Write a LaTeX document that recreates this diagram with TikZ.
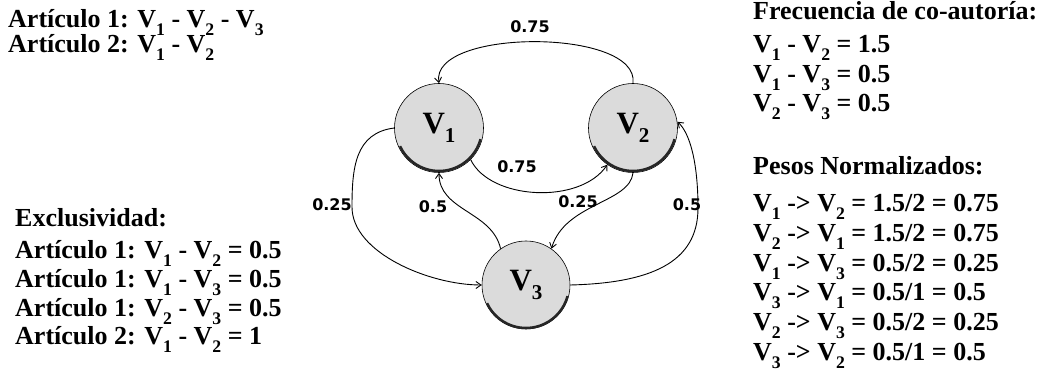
\documentclass[tikz,border=0pt]{standalone}
\usepackage{fontspec}
\usepackage{graphicx}
\setmainfont{Liberation Serif}
\newfontfamily\lblfont{DejaVu Sans}
\usetikzlibrary{arrows.meta}
\newcommand\sbs[1]{\raisebox{-0.3em}{\scalebox{0.68}{#1}}}
\begin{document}
\begin{tikzpicture}[x=1pt,y=1pt,
  vert/.style={circle, draw=black, line width=0.6pt, fill=gray!28, minimum size=89pt, inner sep=0pt, font=\fontsize{31}{31}\selectfont\bfseries},
  txt/.style={anchor=base west, inner sep=0pt, font=\fontsize{26}{26}\selectfont\bfseries},
  edge/.style={line width=0.9pt, -{Straight Barb[length=5pt,width=7pt]}},
  wlbl/.style={font=\lblfont\fontsize{16}{16}\selectfont\bfseries, inner sep=0pt},
  shade/.style={line width=2.5pt, black!85}]
\useasboundingbox (0,0) rectangle (1053,383);
\fill[white] (0,0) rectangle (1053,383);

% vertices
\node[vert] (v1) at (439,255) {V\sbs{1}};
\node[vert] (v2) at (633,255) {V\sbs{2}};
\node[vert, minimum size=88pt] (v3) at (526,98) {V\sbs{3}};
\foreach \v in {v1,v2,v3}{
  \draw[shade] ([shift={(\v.center)}]205:43) arc[start angle=205, end angle=345, radius=43];
}

% edges
\draw[edge] (v2.north) .. controls (640,355) and (430,355) .. (v1.north);
\draw[edge] (v1.-45) .. controls (490,183) and (580,178) .. (v2.235);
\draw[edge] (v1.west) .. controls (355,250) and (352,215) .. (352,176)
            .. controls (352,130) and (430,98) .. (v3.west);
\draw[edge] (v3.125) .. controls (492,172) and (439,172) .. (v1.south);
\draw[edge] (v2.south) .. controls (630,180) and (565,180) .. (v3.55);
\draw[edge] (v3.east) .. controls (650,100) and (698,120) .. (698,175)
            .. controls (698,220) and (690,250) .. (v2.8);

% edge labels
\node[wlbl] (l12a) at (530,356) {0.75};
\node[wlbl] (l12b) at (517,216) {0.75};
\node[wlbl] (l13) at (332,178) {0.25};
\node[wlbl] (l31) at (433,176) {0.5};
\node[wlbl] (l23) at (578,181) {0.25};
\node[wlbl] (l32) at (687,178) {0.5};

% top-left text
\node[txt] (tl1) at (8,355) {Artículo 1: V\sbs{1} - V\sbs{2} - V\sbs{3}};
\node[txt] (tl2) at (8,330) {Artículo 2: V\sbs{1} - V\sbs{2}};

% Exclusividad
\node[txt] (ex0) at (15,156) {Exclusividad:};
\node[txt] (ex1) at (15,124) {Artículo 1: V\sbs{1} - V\sbs{2} = 0.5};
\node[txt] (ex2) at (15,95) {Artículo 1: V\sbs{1} - V\sbs{3} = 0.5};
\node[txt] (ex3) at (15,66) {Artículo 1: V\sbs{2} - V\sbs{3} = 0.5};
\node[txt] (ex4) at (15,38) {Artículo 2: V\sbs{1} - V\sbs{2} = 1};

% Frecuencia
\node[txt] (fr0) at (753,363) {Frecuencia de co-autoría:};
\node[txt] (fr1) at (753,330) {V\sbs{1} - V\sbs{2} = 1.5};
\node[txt] (fr2) at (753,300) {V\sbs{1} - V\sbs{3} = 0.5};
\node[txt] (fr3) at (753,271) {V\sbs{2} - V\sbs{3} = 0.5};

% Pesos
\node[txt] (pn0) at (753,208) {Pesos Normalizados:};
\node[txt] (pn1) at (753,171) {V\sbs{1} -> V\sbs{2} = 1.5/2 = 0.75};
\node[txt] (pn2) at (753,141) {V\sbs{2} -> V\sbs{1} = 1.5/2 = 0.75};
\node[txt] (pn3) at (753,111) {V\sbs{1} -> V\sbs{3} = 0.5/2 = 0.25};
\node[txt] (pn4) at (753,82) {V\sbs{3} -> V\sbs{1} = 0.5/1 = 0.5};
\node[txt] (pn5) at (753,52) {V\sbs{2} -> V\sbs{3} = 0.5/2 = 0.25};
\node[txt] (pn6) at (753,22) {V\sbs{3} -> V\sbs{2} = 0.5/1 = 0.5};
\end{tikzpicture}
\end{document}
